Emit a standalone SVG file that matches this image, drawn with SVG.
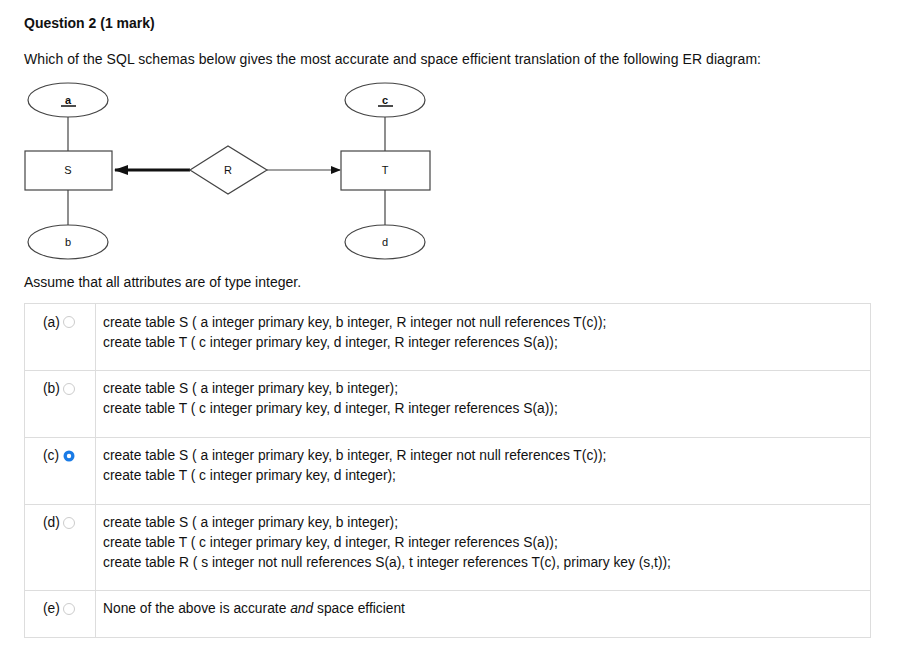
<svg xmlns="http://www.w3.org/2000/svg" width="919" height="654" viewBox="0 0 919 654">
<style>
text{font-family:"Liberation Sans",Arial,sans-serif;fill:#111}
.t{font-size:14px}
.r{font-size:13.8px}
.s{font-size:11px;text-anchor:middle}
.sh{fill:#fff;stroke:#444;stroke-width:1.2}
.ln{stroke:#444;stroke-width:1.2;fill:none}
.g{stroke:#ddd;stroke-width:1;fill:none}
.rad{fill:#fff;stroke:#ccc;stroke-width:1}
</style>
<defs>
<marker id="ah" markerWidth="10" markerHeight="8" refX="9" refY="4" orient="auto" markerUnits="userSpaceOnUse"><path d="M0,0L10,4L0,8z" fill="#111"/></marker>
<marker id="ahb" markerWidth="14" markerHeight="10" refX="13" refY="5" orient="auto" markerUnits="userSpaceOnUse"><path d="M0,0L14,5L0,10z" fill="#111"/></marker>
</defs>
<rect width="919" height="654" fill="#fff"/>
<text x="24" y="28" style="font-size:14px;font-weight:bold">Question 2 (1 mark)</text>
<text x="24" y="64" class="t" textLength="737">Which of the SQL schemas below gives the most accurate and space efficient translation of the following ER diagram:</text>
<g id="connectors">
<line class="ln" x1="68" y1="117" x2="68" y2="151"/>
<line class="ln" x1="68" y1="190" x2="68" y2="225"/>
<line class="ln" x1="385" y1="117" x2="385" y2="151"/>
<line class="ln" x1="385" y1="190" x2="385" y2="225"/>
<line x1="190" y1="170" x2="115" y2="170" stroke="#111" stroke-width="3" marker-end="url(#ahb)"/>
<line x1="267" y1="170" x2="340" y2="170" stroke="#444" stroke-width="1.2" marker-end="url(#ah)"/>
</g>
<g id="a"><ellipse class="sh" cx="68" cy="100" rx="40" ry="17"/><text class="s" x="68" y="104" font-weight="bold">a</text><line x1="61" y1="106" x2="76" y2="106" stroke="#111" stroke-width="1.5"/></g>
<g id="S"><rect class="sh" x="25" y="151" width="87" height="39"/><text class="s" x="68" y="174">S</text></g>
<g id="b"><ellipse class="sh" cx="68" cy="242" rx="40" ry="17"/><text class="s" x="68" y="246">b</text></g>
<g id="R"><polygon class="sh" points="190,170 228,146 267,170 228,194"/><text class="s" x="228" y="174">R</text></g>
<g id="c"><ellipse class="sh" cx="385" cy="100" rx="40" ry="17"/><text class="s" x="385" y="104" font-weight="bold">c</text><line x1="378" y1="106" x2="393" y2="106" stroke="#111" stroke-width="1.5"/></g>
<g id="T"><rect class="sh" x="341" y="151" width="89" height="39"/><text class="s" x="385" y="174">T</text></g>
<g id="d"><ellipse class="sh" cx="385" cy="242" rx="40" ry="17"/><text class="s" x="385" y="246">d</text></g>
<text x="24" y="287" class="t">Assume that all attributes are of type integer.</text>
<g id="table">
<rect class="g" x="24.5" y="303.5" width="846" height="334"/>
<line class="g" x1="95.5" y1="303" x2="95.5" y2="638"/>
<line class="g" x1="24" y1="370.5" x2="870" y2="370.5"/>
<line class="g" x1="24" y1="437.5" x2="870" y2="437.5"/>
<line class="g" x1="24" y1="504.5" x2="870" y2="504.5"/>
<line class="g" x1="24" y1="590.5" x2="870" y2="590.5"/>
<text x="43" y="327" class="r">(a)</text><circle class="rad" cx="69" cy="322" r="5.5"/>
<text x="43" y="393" class="r">(b)</text><circle class="rad" cx="69" cy="389" r="5.5"/>
<text x="43" y="460" class="r">(c)</text><circle cx="69" cy="456" r="5.5" fill="#1a7be6"/><circle cx="69" cy="456" r="2.2" fill="#fff"/>
<text x="43" y="527" class="r">(d)</text><circle class="rad" cx="69" cy="523" r="5.5"/>
<text x="43" y="613" class="r">(e)</text><circle class="rad" cx="69" cy="609" r="5.5"/>
<text x="103" y="327" class="r">create table S ( a integer primary key, b integer, R integer not null references T(c));</text>
<text x="103" y="347" class="r">create table T ( c integer primary key, d integer, R integer references S(a));</text>
<text x="103" y="393" class="r">create table S ( a integer primary key, b integer);</text>
<text x="103" y="413" class="r">create table T ( c integer primary key, d integer, R integer references S(a));</text>
<text x="103" y="460" class="r">create table S ( a integer primary key, b integer, R integer not null references T(c));</text>
<text x="103" y="480" class="r">create table T ( c integer primary key, d integer);</text>
<text x="103" y="527" class="r">create table S ( a integer primary key, b integer);</text>
<text x="103" y="547" class="r">create table T ( c integer primary key, d integer, R integer references S(a));</text>
<text x="103" y="567" class="r">create table R ( s integer not null references S(a), t integer references T(c), primary key (s,t));</text>
<text x="103" y="613" class="r">None of the above is accurate <tspan font-style="italic">and</tspan> space efficient</text>
</g>
</svg>
